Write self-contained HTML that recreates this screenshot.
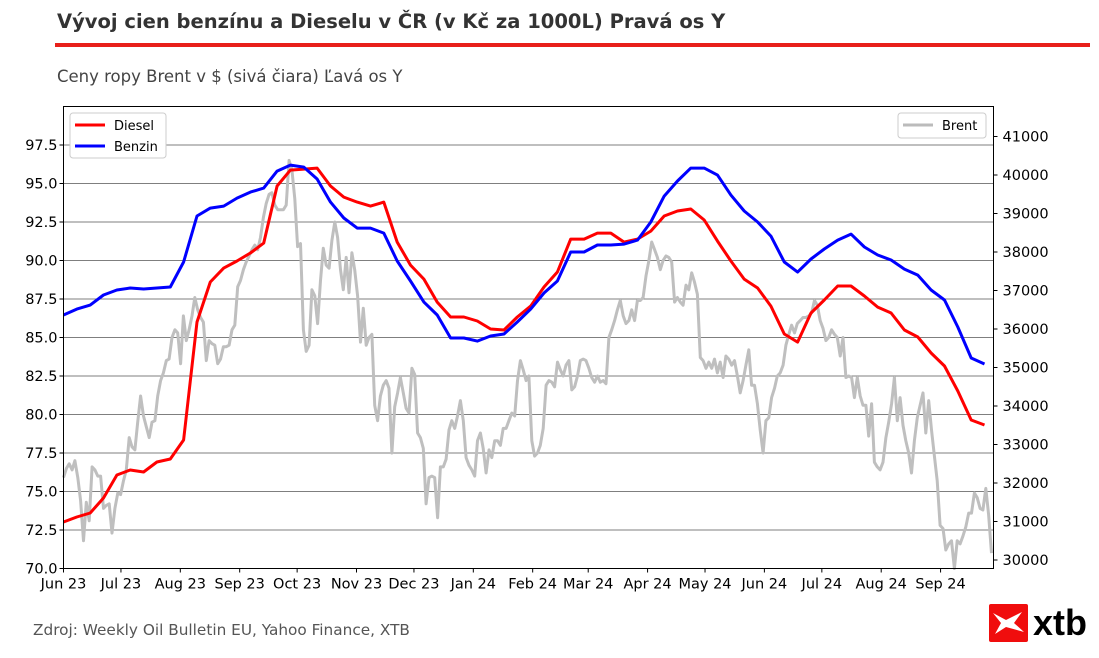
<!DOCTYPE html>
<html><head><meta charset="utf-8"><style>
body{margin:0;width:1099px;height:653px;background:#fff;font-family:"Liberation Sans","DejaVu Sans",sans-serif;overflow:hidden}
</style></head><body>
<svg id="c" width="1099" height="653" xmlns="http://www.w3.org/2000/svg">
<text x="57" y="28" font-size="19.5" font-weight="bold" fill="#333" font-family="DejaVu Sans, sans-serif">Vývoj cien benzínu a Dieselu v ČR (v Kč za 1000L) Pravá os Y</text>
<rect x="55" y="43" width="1035" height="4" fill="#e8201a"/>
<text x="57" y="82" font-size="16.5" fill="#444" font-family="DejaVu Sans, sans-serif">Ceny ropy Brent v $ (sivá čiara) Ľavá os Y</text>
<g id="grid"></g>
<g id="series"></g>
<rect x="63.5" y="106.5" width="930" height="462" fill="none" stroke="#000" stroke-width="1"/>
<g id="axes" font-family="DejaVu Sans, sans-serif" font-size="14.5" fill="#000"></g>
<g>
<rect x="70" y="113" width="96" height="45" rx="3" fill="#fff" stroke="#ccc"/>
<line x1="75" y1="125" x2="105" y2="125" stroke="#f00" stroke-width="3"/>
<text x="114" y="130" font-size="13" font-family="DejaVu Sans, sans-serif">Diesel</text>
<line x1="75" y1="146" x2="105" y2="146" stroke="#00f" stroke-width="3"/>
<text x="114" y="151" font-size="13" font-family="DejaVu Sans, sans-serif">Benzin</text>
</g>
<g>
<rect x="898" y="113" width="88" height="25" rx="3" fill="#fff" stroke="#ccc"/>
<line x1="903" y1="125" x2="933" y2="125" stroke="#bbb" stroke-width="3"/>
<text x="942" y="130" font-size="13" font-family="DejaVu Sans, sans-serif">Brent</text>
</g>
<text x="33" y="635" font-size="15.3" fill="#555" font-family="DejaVu Sans, sans-serif">Zdroj: Weekly Oil Bulletin EU, Yahoo Finance, XTB</text>
<g>
<rect x="989" y="604" width="39" height="38" rx="2" fill="#f00d0d"/>
<path d="M993 613 L1006 620 L1022 612 L1014 623 L1024 632 L1006 627 L995 634 L1001 623 Z" fill="#fff"/>
<text x="1033" y="635" font-size="36" font-weight="bold" fill="#000" font-family="Liberation Sans, sans-serif">xtb</text>
</g>
</svg>
<script>
const monthLabels=["Jun 23","Jul 23","Aug 23","Sep 23","Oct 23","Nov 23","Dec 23","Jan 24","Feb 24","Mar 24","Apr 24","May 24","Jun 24","Jul 24","Aug 24","Sep 24"];
const monthDays=[0,30,61,92,122,153,183,214,245,274,305,335,366,396,427,458];
const leftTicks=[70,72.5,75,77.5,80,82.5,85,87.5,90,92.5,95,97.5];
const rightTicks=[30000,31000,32000,33000,34000,35000,36000,37000,38000,39000,40000,41000];
const diesel=[30987,31117,31221,31610,32207,32337,32285,32545,32623,33116,36181,37220,37583,37765,37973,38232,39713,40128,40154,40180,39713,39427,39297,39193,39297,38258,37661,37297,36700,36311,36311,36207,35999,35973,36311,36596,37090,37480,38336,38336,38492,38492,38258,38336,38544,38934,39064,39116,38830,38284,37765,37297,37064,36596,35869,35661,36415,36752,37116,37116,36856,36570,36415,35973,35791,35376,35038,34389,33636,33506];
const benzin=[36363,36518,36622,36882,37012,37064,37038,37064,37090,37739,38934,39141,39193,39401,39557,39661,40102,40258,40206,39895,39297,38882,38622,38622,38492,37765,37246,36700,36363,35765,35765,35687,35817,35869,36181,36518,36934,37246,37999,37999,38181,38181,38206,38310,38778,39453,39843,40180,40180,39998,39479,39064,38778,38414,37739,37479,37817,38077,38310,38466,38129,37921,37791,37557,37401,37012,36752,36051,35246,35090];
const brent=[75.9,76.5,76.8,76.4,77.0,75.9,74.4,71.8,74.3,73.1,76.6,76.4,76.0,76.0,73.9,74.1,74.2,72.3,73.9,74.9,74.8,75.7,76.4,78.5,77.9,77.7,79.5,81.2,79.9,79.2,78.5,79.5,79.6,81.2,82.2,82.7,83.5,83.6,85.0,85.5,85.3,83.3,86.4,84.8,85.5,86.4,87.6,86.8,86.3,86.0,83.5,84.8,84.6,84.5,83.3,83.6,84.4,84.4,84.5,85.5,85.8,88.3,88.7,89.4,89.9,90.3,90.7,91.0,90.7,91.5,92.8,93.7,94.3,94.4,93.6,93.3,93.3,93.3,93.6,96.5,95.9,94.0,90.9,91.1,85.5,84.1,84.5,88.1,87.7,85.9,88.7,90.8,89.7,89.5,91.3,92.5,91.5,89.4,88.1,90.2,87.9,90.5,89.4,87.7,84.7,86.9,84.5,85.0,85.2,80.6,79.6,81.2,81.9,82.2,81.7,77.5,80.5,81.4,82.4,81.4,80.4,80.1,83.0,82.6,78.8,78.5,77.8,74.2,75.9,76.0,75.9,73.3,76.6,76.6,77.1,79.0,79.6,79.1,79.9,80.9,79.6,77.2,76.7,76.4,76.0,78.3,78.8,77.8,76.2,77.7,77.2,78.3,78.3,78.0,79.1,79.1,79.6,80.1,79.9,82.2,83.5,82.9,82.2,82.5,78.3,77.3,77.5,78.0,79.1,81.9,82.2,82.1,81.8,83.4,82.9,82.5,83.2,83.5,81.6,81.8,82.5,83.5,83.6,83.5,83.0,82.4,82.1,82.5,82.1,82.2,82.0,85.0,85.5,86.1,86.8,87.4,86.4,85.9,86.1,86.8,86.1,87.4,87.4,87.6,89.0,90.0,91.2,90.7,90.2,89.4,90.0,90.3,90.2,89.9,87.3,87.6,87.3,87.1,88.4,88.1,89.2,88.6,87.8,83.7,83.5,83.0,83.4,83.0,83.6,82.7,83.4,82.4,83.8,83.6,83.2,83.5,82.5,81.4,82.2,83.2,84.2,81.9,81.9,80.7,79.0,77.5,79.6,79.8,81.1,81.7,82.5,82.7,83.2,84.5,85.2,85.8,85.3,85.9,86.1,86.3,86.3,86.4,86.6,87.4,87.1,86.1,85.6,84.8,85.0,85.5,85.2,85.0,83.8,85.0,82.4,82.5,82.4,81.1,82.4,81.2,80.6,80.6,78.6,80.7,76.9,76.6,76.4,76.9,78.5,79.5,80.7,82.4,79.6,81.1,79.3,78.3,77.5,76.2,78.3,79.8,80.6,81.4,78.8,80.9,79.0,77.3,75.7,72.8,72.6,71.2,71.6,71.8,70.0,71.8,71.6,72.1,72.7,73.6,73.6,74.9,74.6,73.9,73.8,75.2,73.5,71.0];

const L=63.5,R=993.5,T=106.5,B=568.5;
const yL=v=>B-(v-70)/30*(B-T);
const yR=v=>560-(v-30000)/1000*38.5;
const xDay=d=>63.5+d*1.915;
const xWeek=i=>63.5+i*(984-63)/(diesel.length-1);
const xBrent=i=>63.5+i*(991-63)/(brent.length-1);
const NS="http://www.w3.org/2000/svg";
function mk(tag,attrs,parent){const e=document.createElementNS(NS,tag);for(const k in attrs)e.setAttribute(k,attrs[k]);parent.appendChild(e);return e;}
const grid=document.getElementById('grid'),axes=document.getElementById('axes'),series=document.getElementById('series');
leftTicks.forEach(v=>{
  const y=yL(v);
  if(v>70){const g=mk('line',{x1:L,x2:R,y1:y,y2:y,stroke:'#555','stroke-width':0.8},grid);
  
  }
  mk('line',{x1:L-4,x2:L,y1:y,y2:y,stroke:'#000'},axes);
  const t=mk('text',{x:L-6,y:y+5,'text-anchor':'end'},axes);t.textContent=v.toFixed(1);
  
  
});
rightTicks.forEach(v=>{
  const y=yR(v);
  mk('line',{x1:R,x2:R+4,y1:y,y2:y,stroke:'#000'},axes);
  const t=mk('text',{x:R+9,y:y+5},axes);t.textContent=v;
  
  
});
monthLabels.forEach((m,i)=>{
  const x=xDay(monthDays[i]);
  mk('line',{x1:x,x2:x,y1:B,y2:B+4,stroke:'#000'},axes);
  const t=mk('text',{x:x,y:B+20,'text-anchor':'middle'},axes);t.textContent=m;
  
  
});
function line(arr,xf,yf,color,w,name){
  const p=mk('polyline',{points:arr.map((v,i)=>xf(i).toFixed(1)+','+yf(v).toFixed(1)).join(' '),fill:'none',stroke:color,'stroke-width':w,'stroke-linejoin':'round'},series);
  
  
}
line(brent,xBrent,yL,'#bfbfbf',3,'brent-line');
line(diesel,xWeek,yR,'#ff0000',3,'diesel-line');
line(benzin,xWeek,yR,'#0000ff',3,'benzin-line');
</script>
</body></html>
